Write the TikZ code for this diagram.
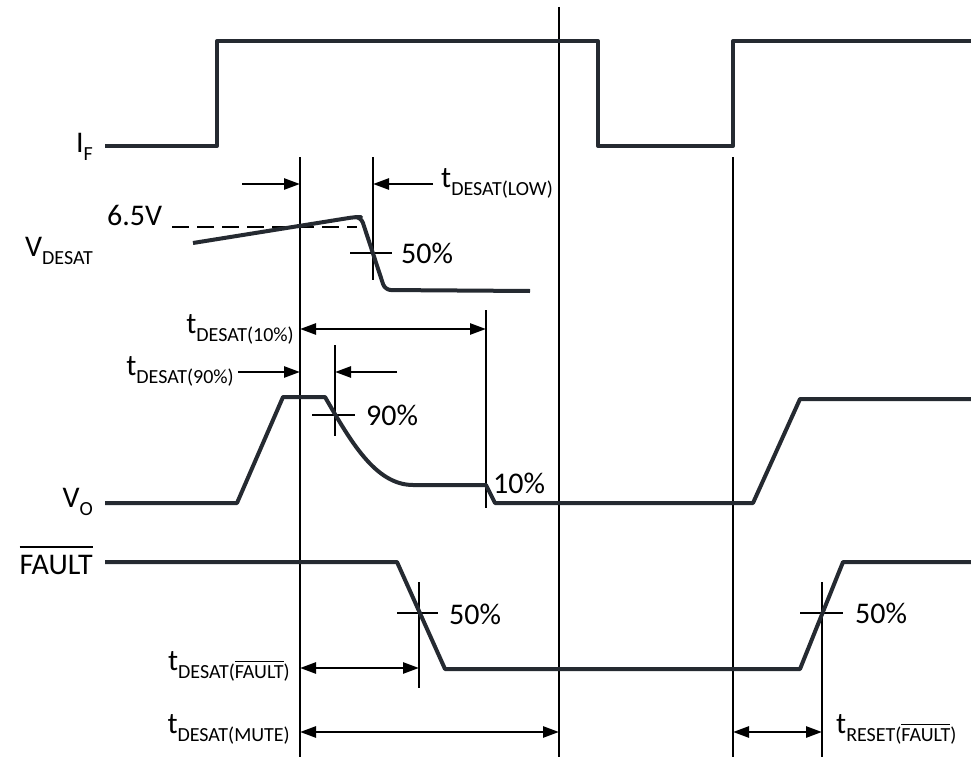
\documentclass[tikz,border=0pt]{standalone}
\usepackage{fontspec}
\setmainfont{Carlito}
\usetikzlibrary{arrows.meta}
\definecolor{sig}{HTML}{252A31}
\newcommand\mainfnt{\fontsize{30}{34}\selectfont}
\newcommand\subfnt{\fontsize{20}{22}\selectfont}
\newcommand\lbl[2]{#1\raisebox{-8pt}{\subfnt #2}}
\newcommand\ovl[2]{\vbox{\hrule height 1.4pt\kern #1\hbox{#2}}}
\begin{document}
\begin{tikzpicture}[x=1pt,y=-1pt,
  signal/.style={draw=sig,line width=4pt,line join=round},
  thin/.style={draw=black,line width=1.5pt},
  dim/.style={draw=black,line width=2.6pt,arrows={-Triangle[length=16pt,width=11pt]}},
  dimboth/.style={draw=black,line width=2.6pt,arrows={Triangle[length=16pt,width=11pt]-Triangle[length=16pt,width=11pt]}},
  txt/.style={inner sep=0pt,font=\mainfnt,text=black}]
\useasboundingbox[fill=white] (0,0) rectangle (971,757);

% vertical reference lines
\draw[thin] (300,157) -- (300,757);
\draw[thin] (373,157) -- (373,280);
\draw[thin] (559,7) -- (559,757);
\draw[thin] (733,157) -- (733,757);
\draw[thin] (486,310) -- (486,508);
\draw[thin] (335,345) -- (335,436);
\draw[thin] (419,582) -- (419,688);
\draw[thin] (822,582) -- (822,757);

% crosses
\draw[thin] (350,253) -- (392,253);
\draw[thin] (312,415) -- (355,415);
\draw[thin] (397,613) -- (438,613);
\draw[thin] (800,613) -- (843,613);

% dashed 6.5V threshold
\draw[black,line width=2pt,dash pattern=on 17pt off 8pt] (172,227) -- (357,227);

% I_F
\draw[signal] (105,146) -- (217,146) -- (217,41) -- (598,41) -- (598,146) -- (733,146) -- (733,41) -- (971,41);
% V_DESAT
\draw[signal,rounded corners=6pt] (193,243) -- (355,217) -- (361,217) -- (385,290) -- (530,291);
% V_O
\draw[signal] (105,503) -- (237,503) -- (283,397) -- (325,397)
  .. controls (350,440) and (375,485) .. (413,485) -- (486,485) -- (495,503)
  -- (753,503) -- (800,399) -- (971,399);
% FAULT
\draw[signal] (105,562) -- (397,562) -- (445,669) -- (800,669) -- (843,562) -- (971,562);

% timing arrows
\draw[dim] (242,184) -- (300,184);
\draw[dim] (433,184) -- (373,184);
\draw[dimboth] (300,329) -- (486,329);
\draw[dim] (238,372) -- (300,372);
\draw[dim] (397,372) -- (335,372);
\draw[dimboth] (300,668) -- (419,668);
\draw[dimboth] (300,732) -- (559,732);
\draw[dimboth] (733,732) -- (822,732);

% signal labels
\node[txt,anchor=base east] (lIF) at (93,153) {\lbl{I}{F}};
\node[txt,anchor=base east] (lVD) at (93,256) {\lbl{V}{DESAT}};
\node[txt,anchor=base east] (lVO) at (93,507) {\lbl{V}{O}};
\node[txt,anchor=base east] (lFA) at (93,574) {\ovl{7pt}{FAULT}};
\node[txt,anchor=base west] (l65) at (107,225) {6.5V};

% level labels
\node[txt,anchor=base west] (p50a) at (401,263) {50\%};
\node[txt,anchor=base west] (p90) at (366,425) {90\%};
\node[txt,anchor=base west] (p10) at (493,493) {10\%};
\node[txt,anchor=base west] (p50b) at (449,624) {50\%};
\node[txt,anchor=base west] (p50c) at (855,623) {50\%};

% timing labels
\node[txt,anchor=base west] (tLow) at (441,187) {\lbl{t}{DESAT(LOW)}};
\node[txt,anchor=base east] (t10) at (294,333) {\lbl{t}{DESAT(10\%)}};
\node[txt,anchor=base east] (t90) at (234,375) {\lbl{t}{DESAT(90\%)}};
\node[txt,anchor=base east] (tFa) at (290,670) {\lbl{t}{DESAT(\ovl{3pt}{FAULT})}};
\node[txt,anchor=base east] (tMu) at (290,733) {\lbl{t}{DESAT(MUTE)}};
\node[txt,anchor=base west] (tRe) at (836,733) {\lbl{t}{RESET(\ovl{3pt}{FAULT})}};
\end{tikzpicture}
\end{document}
